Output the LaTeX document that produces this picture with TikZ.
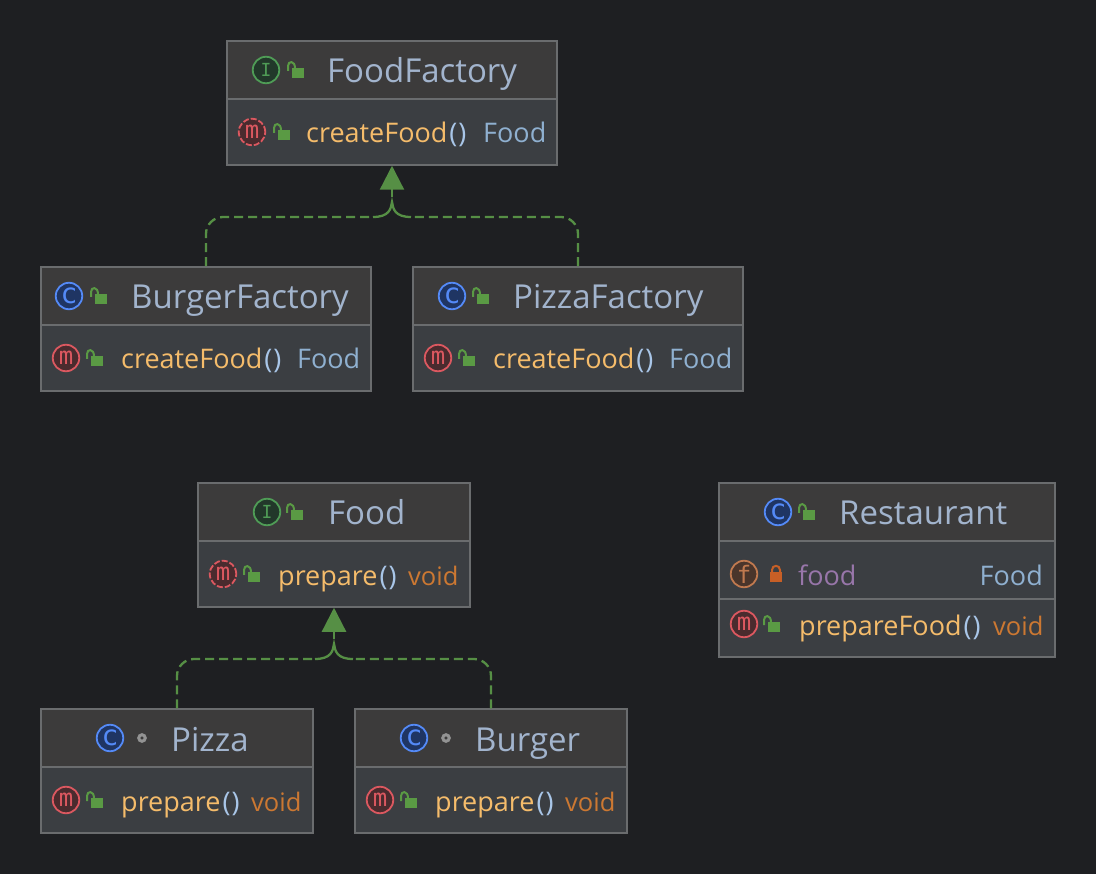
\documentclass[tikz,border=0pt]{standalone}
\usepackage{fontspec}
\setmainfont{Open Sans}
\newfontfamily\iconfont{DejaVu Sans Mono}
\usepackage{xcolor}
\usetikzlibrary{positioning,arrows.meta,fit,calc}
\definecolor{canvas}{HTML}{1E1F22}
\definecolor{headfill}{HTML}{3C3B3B}
\definecolor{bodyfill}{HTML}{3B3E42}
\definecolor{frame}{HTML}{6A6C6E}
\definecolor{titleink}{HTML}{A2B4CD}
\definecolor{methodink}{HTML}{F5BC6B}
\definecolor{typeink}{HTML}{8FB0D0}
\definecolor{parenink}{HTML}{A9C6E8}
\definecolor{voidink}{HTML}{CC7832}
\definecolor{fieldink}{HTML}{9876AA}
\definecolor{leaf}{HTML}{5A9A44}
\definecolor{vine}{HTML}{568F45}
\definecolor{lockred}{HTML}{C75F26}
\definecolor{HTMLc}{HTML}{548AF7}
\definecolor{HTMLcf}{HTML}{1F3563}
\definecolor{HTMLi}{HTML}{4F9C56}
\definecolor{HTMLif}{HTML}{22382A}
\definecolor{HTMLm}{HTML}{DB5860}
\definecolor{HTMLmf}{HTML}{4A2B2E}
\definecolor{HTMLf}{HTML}{C0794F}
\definecolor{HTMLff}{HTML}{4A352B}
\newcommand{\meth}[1]{{\color{methodink}#1}\kern2pt{\color{parenink}(\kern1pt)}}

\tikzset{
  openlock/.pic={
    \fill[leaf] (-6,-5) rectangle (6,5);
    \draw[leaf, line width=2pt] (-10,-2) -- (-10,-7) .. controls (-10,-12.5) and (-3,-12.5) .. (-3,-5);
  },
  shutlock/.pic={
    \fill[lockred] (-6,-5) rectangle (6,5);
    \draw[lockred, line width=2pt] (-4,-5) -- (-4,-7) .. controls (-4,-12.5) and (4,-12.5) .. (4,-7) -- (4,-5);
  },
  classbox/.style={draw=frame, fill=bodyfill, line width=1.5pt, inner sep=0pt},
  headbox/.style={draw=frame, fill=headfill, line width=1.5pt, inner sep=0pt},
  rowbox/.style={draw=frame, line width=1.5pt, inner sep=0pt},
  title/.style={anchor=base west, inner sep=0pt, yshift=-1pt, text=titleink, font=\fontsize{33}{33}\selectfont},
  member/.style={anchor=base west, inner sep=0pt, yshift=-1pt, font=\fontsize{27}{27}\selectfont},
  typeleft/.style={member, text=typeink},
  voidleft/.style={member, text=voidink, font=\fontsize{25.5}{26}\selectfont},
  kind/.style={circle, inner sep=0pt, minimum size=26.5pt, line width=1.8pt, font=\iconfont\fontsize{24}{24}\selectfont},
  kindc/.style={kind, draw=HTMLc, fill=HTMLcf, text=HTMLc, font=\iconfont\fontsize{28}{28}\selectfont},
  kindi/.style={kind, draw=HTMLi, fill=HTMLif, text=HTMLi, font=\iconfont\fontsize{18}{18}\selectfont},
  kindm/.style={kind, draw=HTMLm, fill=HTMLmf, text=HTMLm},
  kinda/.style={kindm, dash pattern=on 6pt off 2pt},
  kindf/.style={kind, draw=HTMLf, fill=HTMLff, text=HTMLf},
  pkgdot/.style={circle, draw=gray!85, line width=3pt, inner sep=0pt, minimum size=6.5pt},
  realize/.style={draw=vine, line width=2.3pt, dash pattern=on 9pt off 5pt, rounded corners=17pt},
  fork/.style={draw=vine, line width=2.3pt},
  realizetip/.style={draw=vine, line width=2.3pt, -{Triangle[length=24pt,width=24pt]}},
}

\begin{document}
\begin{tikzpicture}[x=1pt, y=-1pt]
    \fill[canvas] (0,0) rectangle (1096,874);
    \useasboundingbox (0,0) rectangle (1096,874);

    % class frames and header bands
    \foreach \nm/\xa/\ya/\xb/\yb/\yr in {foodfactory/227/41/557/165/99, burgerfactory/41/267/371/391/325,
        pizzafactory/413/267/743/391/325, food/198/483/470/607/541, restaurant/719/483/1055/657/541,
        pizza/41/709/313/833/767, burger/355/709/627/833/767} {
      \node[classbox, fit={(\xa,\ya) (\xb,\yb)}] (\nm) {};
      \node[headbox, fit={(\xa,\ya) (\xb,\yr)}] (\nm head) {};
    }
    \node[rowbox, fit={(719,541) (1055,599)}] (restaurantfield) {};

    % FoodFactory
    \node[kindi] (ffkind) at (266,70) {I};
    \pic at (298,73) {openlock};
    \node[title] (fftitle) at (327,82) {FoodFactory};
    \node[kinda] (ffmkind) at (252,132) {m};
    \pic at (284,135) {openlock};
    \node[member] (ffmethod) at (306,142) {\meth{createFood}};
    \node[typeleft] (fftype) at (483,142) {Food};

    % BurgerFactory
    \node[kindc] (bfkind) at (69,296) {c};
    \pic at (101,299) {openlock};
    \node[title] (bftitle) at (131,308) {BurgerFactory};
    \node[kindm] (bfmkind) at (66,358) {m};
    \pic at (97,361) {openlock};
    \node[member] (bfmethod) at (121,368) {\meth{createFood}};
    \node[typeleft] (bftype) at (297,368) {Food};

    % PizzaFactory
    \node[kindc] (pfkind) at (452,296) {c};
    \pic at (483,299) {openlock};
    \node[title] (pftitle) at (513,308) {PizzaFactory};
    \node[kindm] (pfmkind) at (438,358) {m};
    \pic at (469,361) {openlock};
    \node[member] (pfmethod) at (493,368) {\meth{createFood}};
    \node[typeleft] (pftype) at (669,368) {Food};

    % Food
    \node[kindi] (fkind) at (267,512) {I};
    \pic at (297,515) {openlock};
    \node[title] (ftitle) at (328,524) {Food};
    \node[kinda] (fmkind) at (223,574) {m};
    \pic at (254,577) {openlock};
    \node[member] (fmethod) at (278,584) {\meth{prepare}};
    \node[voidleft] (ftype) at (408,584) {void};

    % Restaurant
    \node[kindc] (rkind) at (778,512) {c};
    \pic at (809,515) {openlock};
    \node[title] (rtitle) at (839,524) {Restaurant};
    \node[kindf] (rfkind) at (744,574) {f};
    \pic at (776,577) {shutlock};
    \node[member, text=fieldink] (rfield) at (798,584) {food};
    \node[member, anchor=base east, text=typeink] (rfieldtype) at (1043,584) {Food};
    \node[kindm] (rmkind) at (744,624) {m};
    \pic at (774,627) {openlock};
    \node[member] (rmethod) at (799,634) {\meth{prepareFood}};
    \node[voidleft] (rtype) at (993,634) {void};

    % Pizza
    \node[kindc] (pkind) at (110,738) {c};
    \node[pkgdot] (pdot) at (142,738) {};
    \node[title] (ptitle) at (171,750) {Pizza};
    \node[kindm] (pmkind) at (66,800) {m};
    \pic at (97,803) {openlock};
    \node[member] (pmethod) at (121,810) {\meth{prepare}};
    \node[voidleft] (ptype) at (251,810) {void};

    % Burger
    \node[kindc] (bkind) at (414,738) {c};
    \node[pkgdot] (bdot) at (446,738) {};
    \node[title] (btitle) at (475,750) {Burger};
    \node[kindm] (bmkind) at (380,800) {m};
    \pic at (411,803) {openlock};
    \node[member] (bmethod) at (435,810) {\meth{prepare}};
    \node[voidleft] (btype) at (565,810) {void};

    % realization arrows
    \coordinate (ffmerge) at (392,202);
    \coordinate (ffstem) at (392,197);
    \coordinate (ffleft) at (373,217);
    \coordinate (ffright) at (411,217);
    \draw[realize] (burgerfactory.north) |- (ffleft);
    \draw[realize] (pizzafactory.north) |- (ffright);
    \draw[fork] (ffleft) .. controls ($(ffleft -| ffmerge)+(-3,0)$) and ($(ffmerge)+(-1,7)$) .. (ffmerge)
      .. controls ($(ffmerge)+(1,7)$) and ($(ffright -| ffmerge)+(3,0)$) .. (ffright);
    \draw[realizetip] (ffstem) -- (foodfactory.south);

    \coordinate (fmerge) at (334,644);
    \coordinate (fstem) at (334,639);
    \coordinate (fleft) at (315,659);
    \coordinate (fright) at (353,659);
    \draw[realize] (pizza.north) |- (fleft);
    \draw[realize] (burger.north) |- (fright);
    \draw[fork] (fleft) .. controls ($(fleft -| fmerge)+(-3,0)$) and ($(fmerge)+(-1,7)$) .. (fmerge)
      .. controls ($(fmerge)+(1,7)$) and ($(fright -| fmerge)+(3,0)$) .. (fright);
    \draw[realizetip] (fstem) -- (food.south);
  \end{tikzpicture}
\end{document}
